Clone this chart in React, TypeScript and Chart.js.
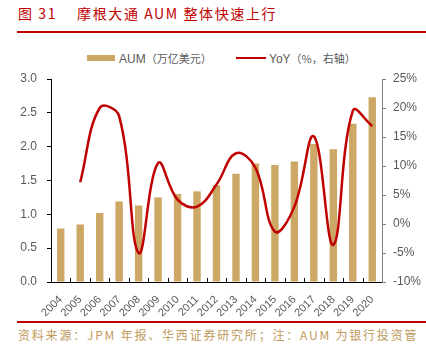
import React, { useEffect, useRef } from "react";
import { Chart, registerables } from "chart.js";

Chart.register(...registerables);

const years = ["2004","2005","2006","2007","2008","2009","2010","2011","2012","2013","2014","2015","2016","2017","2018","2019","2020"];
const aum = [0.79,0.85,1.02,1.19,1.13,1.25,1.30,1.34,1.43,1.60,1.75,1.73,1.78,2.04,1.96,2.34,2.73];
const yoy = [null,7.2,20.0,18.6,-5.0,10.5,4.2,3.0,6.8,12.2,9.7,-1.3,3.0,15.1,-3.6,19.5,16.9];
const leftTicks = { min: 0, max: 3, step: 0.5 };
const rightTicks = { min: -10, max: 25, step: 5 };

const RED = "#C00000";
const GOLD = "#CDA765";
const GRAY = "#595959";
const FONT = "'Liberation Sans', Arial, sans-serif";
const CJK = "'Noto Sans CJK SC', sans-serif";

const innerTicks = {
  id: "innerTicks",
  afterDatasetsDraw(chart: any) {
    const x = chart.scales.x;
    const ctx = chart.ctx;
    const bottom = chart.chartArea.bottom;
    ctx.save();
    ctx.strokeStyle = "#000";
    ctx.lineWidth = 1;
    for (let i = 1; i < years.length; i++) {
      const px = Math.round((x.getPixelForValue(i - 1) + x.getPixelForValue(i)) / 2) + 0.5;
      ctx.beginPath();
      ctx.moveTo(px, bottom);
      ctx.lineTo(px, bottom - 4);
      ctx.stroke();
    }
    ctx.restore();
  },
};

export default function App() {
  const ref = useRef<HTMLCanvasElement>(null);
  useEffect(() => {
    const chart = new Chart(ref.current!, {
      type: "bar",
      data: {
        labels: years,
        datasets: [
          {
            type: "line",
            label: "YoY（%，右轴）",
            data: yoy as any,
            yAxisID: "y1",
            borderColor: RED,
            borderWidth: 2.5,
            pointRadius: 0,
            tension: 0.4,
            order: 0,
          } as any,
          {
            type: "bar",
            label: "AUM（万亿美元）",
            data: aum,
            yAxisID: "y",
            backgroundColor: GOLD,
            barPercentage: 0.38,
            categoryPercentage: 1,
            order: 1,
          },
        ],
      },
      options: {
        animation: false,
        responsive: false,
        maintainAspectRatio: false,
        layout: { padding: { top: 39, left: 0, right: 0, bottom: 0 } },
        plugins: { legend: { display: false }, tooltip: { enabled: false } },
        scales: {
          x: {
            grid: { display: false },
            border: { display: true, color: "#000", width: 1 },
            ticks: {
              color: GRAY,
              font: { family: FONT, size: 11 },
              minRotation: 45,
              maxRotation: 45,
              autoSkip: false,
              padding: 3,
            },
            afterFit: (s: any) => { s.height = 38; },
          },
          y: {
            position: "left",
            min: leftTicks.min,
            max: leftTicks.max,
            grid: { display: true, drawOnChartArea: false, drawTicks: true, tickLength: 4, color: "#000" },
            border: { display: true, color: "#000", width: 1 },
            ticks: {
              stepSize: leftTicks.step,
              color: GRAY,
              font: { family: FONT, size: 12 },
              padding: 10,
              callback: (v: any) => Number(v).toFixed(1),
            },
            afterFit: (s: any) => { s.width = 51; },
          },
          y1: {
            position: "right",
            min: rightTicks.min,
            max: rightTicks.max,
            grid: { display: true, drawOnChartArea: false, drawTicks: true, tickLength: 4, color: "#808080" },
            border: { display: true, color: "#808080", width: 1 },
            ticks: {
              stepSize: rightTicks.step,
              color: GRAY,
              font: { family: FONT, size: 12 },
              padding: 7,
              callback: (v: any) => v + "%",
            },
            afterFit: (s: any) => { s.width = 44; },
          },
        },
      },
      plugins: [innerTicks],
    });
    return () => chart.destroy();
  }, []);

  return (
    <div style={{ position: "absolute", left: 0, top: 0, width: 426, height: 352, background: "#fff", overflow: "hidden" }}>
      <div style={{ position: "absolute", left: 18, top: 3, fontFamily: CJK, fontSize: 14, color: RED, letterSpacing: 1.6, whiteSpace: "nowrap", lineHeight: "20px" }}>
        <span>图 31</span>
        <span style={{ marginLeft: 20 }}>摩根大通 AUM 整体快速上行</span>
      </div>
      <div style={{ position: "absolute", left: 17, top: 31, width: 409, height: 2, background: RED }} />
      <div style={{ position: "absolute", left: 87, top: 50, height: 16, display: "flex", alignItems: "center", fontFamily: CJK, fontSize: 11, color: GRAY, whiteSpace: "nowrap" }}>
        <div style={{ width: 28, height: 6, background: GOLD, marginRight: 4 }} />
        <span><span style={{ fontFamily: FONT, fontSize: 12 }}>AUM</span>（万亿美元）</span>
      </div>
      <div style={{ position: "absolute", left: 236, top: 50, height: 16, display: "flex", alignItems: "center", fontFamily: CJK, fontSize: 11, color: GRAY, whiteSpace: "nowrap" }}>
        <div style={{ width: 30, height: 2.5, background: RED, marginRight: 3 }} />
        <span><span style={{ fontFamily: FONT, fontSize: 12 }}>YoY</span>（%，右轴）</span>
      </div>
      <canvas ref={ref} width={426} height={280} style={{ position: "absolute", left: 0, top: 40, width: 426, height: 280 }} />
      <div style={{ position: "absolute", left: 17, top: 321, width: 409, height: 2, background: RED }} />
      <div style={{ position: "absolute", left: 18, top: 326, fontFamily: CJK, fontSize: 12, color: "#BE9A5C", letterSpacing: 1.8, whiteSpace: "nowrap", lineHeight: "18px" }}>
        资料来源：JPM 年报、华西证券研究所；注：AUM 为银行投资管
      </div>
    </div>
  );
}
